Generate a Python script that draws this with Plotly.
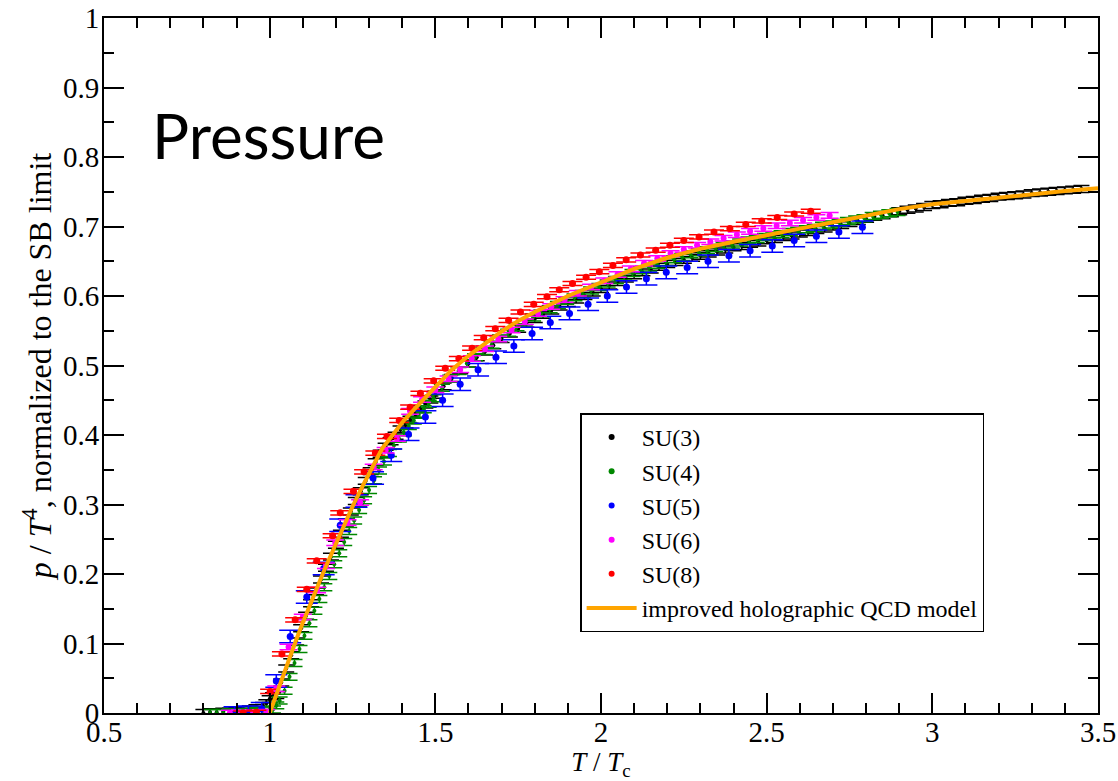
import plotly.graph_objects as go

# ---------------- data ----------------
su3_x = [0.80, 0.82, 0.84, 0.86, 0.88, 0.90, 0.92, 0.94, 0.96, 0.98, 0.99, 1.00, 1.01,
         1.02, 1.035, 1.05, 1.065, 1.08, 1.095, 1.11, 1.125, 1.14, 1.155, 1.17, 1.185,
         1.20, 1.215, 1.23, 1.245, 1.26, 1.275, 1.29, 1.305, 1.32, 1.335, 1.35, 1.365,
         1.38, 1.395, 1.41, 1.425, 1.44, 1.455, 1.47, 1.485, 1.50,
         1.525, 1.55, 1.575, 1.60, 1.625, 1.65, 1.675, 1.70, 1.725, 1.75, 1.775, 1.80,
         1.825, 1.85, 1.875, 1.90, 1.925, 1.95, 1.975, 2.00, 2.025, 2.05, 2.075, 2.10,
         2.125, 2.15, 2.175, 2.20, 2.225, 2.25, 2.275, 2.30, 2.325, 2.35, 2.375, 2.40,
         2.425, 2.45, 2.475, 2.50, 2.525, 2.55, 2.575, 2.60, 2.625, 2.65, 2.675, 2.70,
         2.725, 2.75, 2.775, 2.80, 2.825, 2.85, 2.875, 2.90, 2.925, 2.95, 2.975, 3.00,
         3.025, 3.05, 3.075, 3.10, 3.125, 3.15, 3.175, 3.20, 3.225, 3.25, 3.275, 3.30,
         3.325, 3.35, 3.375, 3.40, 3.425, 3.45]
su3_y = [0.000, 0.001, 0.001, 0.002, 0.002, 0.003, 0.004, 0.005, 0.007, 0.010, 0.014, 0.020, 0.024,
         0.026, 0.044, 0.064, 0.083, 0.103, 0.122, 0.140, 0.158, 0.175, 0.192, 0.209, 0.225,
         0.242, 0.258, 0.274, 0.290, 0.305, 0.319, 0.334, 0.348, 0.361, 0.373, 0.383, 0.391,
         0.399, 0.408, 0.415, 0.422, 0.430, 0.437, 0.444, 0.451, 0.458,
         0.470, 0.482, 0.493, 0.503, 0.512, 0.520, 0.529, 0.538, 0.546, 0.553, 0.560, 0.567,
         0.573, 0.579, 0.585, 0.590, 0.595, 0.600, 0.605, 0.610, 0.615, 0.620, 0.625, 0.630,
         0.634, 0.638, 0.642, 0.646, 0.649, 0.652, 0.655, 0.658, 0.661, 0.664, 0.667, 0.670,
         0.672, 0.675, 0.677, 0.680, 0.682, 0.685, 0.687, 0.690, 0.692, 0.695, 0.697, 0.700,
         0.702, 0.705, 0.708, 0.711, 0.714, 0.716, 0.719, 0.722, 0.724, 0.726, 0.728, 0.731,
         0.732, 0.734, 0.735, 0.737, 0.738, 0.740, 0.741, 0.743, 0.744, 0.745, 0.746, 0.748,
         0.749, 0.750, 0.751, 0.752, 0.753, 0.754]

su4_x = [0.82, 0.84, 0.86, 0.88, 0.90, 0.92, 0.94, 0.96, 0.98, 1.00, 1.01, 1.02, 1.03,
         1.045, 1.06, 1.075, 1.09, 1.105, 1.12, 1.135, 1.15, 1.165, 1.18, 1.195, 1.21,
         1.225, 1.24, 1.255, 1.27, 1.285, 1.30, 1.315, 1.33, 1.345, 1.36, 1.375, 1.39,
         1.405, 1.42, 1.435, 1.45, 1.465, 1.48, 1.495,
         1.52, 1.545, 1.57, 1.595, 1.62, 1.645, 1.67, 1.695, 1.72, 1.745, 1.77, 1.795,
         1.82, 1.845, 1.87, 1.895, 1.92, 1.945, 1.97, 1.995, 2.02, 2.045, 2.07, 2.095,
         2.12, 2.145, 2.17, 2.195, 2.22, 2.245, 2.27, 2.295, 2.32, 2.345, 2.37, 2.395,
         2.42, 2.445, 2.47, 2.495, 2.52, 2.545, 2.57, 2.595, 2.62, 2.645, 2.67, 2.695,
         2.72, 2.745, 2.77, 2.795, 2.82, 2.845, 2.87, 2.895]
su4_y = [0.000, 0.000, 0.000, 0.001, 0.001, 0.001, 0.002, 0.003, 0.004, 0.004, 0.005, 0.011, 0.018,
         0.032, 0.052, 0.072, 0.092, 0.111, 0.129, 0.147, 0.164, 0.181, 0.197, 0.214, 0.230,
         0.246, 0.262, 0.277, 0.292, 0.306, 0.321, 0.335, 0.349, 0.362, 0.374, 0.385, 0.395,
         0.404, 0.413, 0.421, 0.429, 0.437, 0.445, 0.453,
         0.468, 0.481, 0.492, 0.503, 0.512, 0.521, 0.530, 0.539, 0.547, 0.555, 0.562, 0.569,
         0.575, 0.581, 0.587, 0.593, 0.598, 0.603, 0.608, 0.613, 0.618, 0.623, 0.628, 0.633,
         0.637, 0.641, 0.645, 0.649, 0.653, 0.656, 0.660, 0.663, 0.666, 0.669, 0.672, 0.674,
         0.677, 0.680, 0.682, 0.685, 0.687, 0.689, 0.692, 0.694, 0.696, 0.698, 0.701, 0.703,
         0.705, 0.708, 0.710, 0.712, 0.715, 0.717, 0.719, 0.721]

su5_x = [0.894, 0.936, 0.976, 1.020, 1.062, 1.112, 1.163, 1.213, 1.262, 1.312, 1.367,
         1.419, 1.470, 1.522, 1.575, 1.629, 1.683, 1.737, 1.792, 1.847, 1.905, 1.961,
         2.019, 2.077, 2.137, 2.197, 2.260, 2.323, 2.386, 2.450, 2.517, 2.583, 2.650,
         2.718, 2.789]
su5_y = [0.000, 0.001, 0.006, 0.046, 0.110, 0.167, 0.208, 0.270, 0.305, 0.338, 0.371,
         0.401, 0.426, 0.450, 0.473, 0.494, 0.512, 0.528, 0.546, 0.562, 0.575, 0.588,
         0.600, 0.613, 0.625, 0.634, 0.641, 0.650, 0.658, 0.665, 0.672, 0.680, 0.686,
         0.692, 0.699]

su6_x = [0.88, 0.91, 0.95, 0.99, 1.02, 1.057, 1.10, 1.143, 1.17, 1.198, 1.235, 1.273,
         1.314, 1.35, 1.384, 1.424, 1.46, 1.50, 1.54, 1.575, 1.61, 1.65, 1.69, 1.73,
         1.77, 1.81, 1.85, 1.89, 1.93, 1.97, 2.01, 2.05, 2.09, 2.13, 2.17, 2.21, 2.25,
         2.29, 2.33, 2.37, 2.41, 2.45, 2.49, 2.53, 2.57, 2.61, 2.65, 2.69]
su6_y = [0.000, 0.000, 0.000, 0.001, 0.035, 0.095, 0.138, 0.177, 0.212, 0.245, 0.274, 0.303,
         0.354, 0.378, 0.395, 0.434, 0.451, 0.465, 0.481, 0.494, 0.510, 0.524, 0.538, 0.551,
         0.563, 0.575, 0.585, 0.595, 0.604, 0.613, 0.622, 0.631, 0.639, 0.647, 0.654, 0.661, 0.667,
         0.673, 0.678, 0.683, 0.688, 0.693, 0.697, 0.701, 0.705, 0.709, 0.713, 0.716]

su8_x = [0.92, 0.96, 1.0015, 1.037, 1.077, 1.112, 1.142, 1.190, 1.213, 1.253, 1.285,
         1.319, 1.354, 1.391, 1.424, 1.455, 1.495, 1.530, 1.571, 1.611, 1.646, 1.681,
         1.721, 1.757, 1.797, 1.837, 1.874, 1.914, 1.955, 1.995, 2.036, 2.076, 2.119,
         2.165, 2.208, 2.250, 2.296, 2.341, 2.389, 2.437, 2.485, 2.532, 2.583, 2.633]
su8_y = [0.000, 0.001, 0.031, 0.085, 0.134, 0.178, 0.219, 0.255, 0.288, 0.319, 0.347,
         0.374, 0.398, 0.421, 0.440, 0.460, 0.478, 0.496, 0.510, 0.525, 0.540, 0.553,
         0.565, 0.577, 0.588, 0.599, 0.609, 0.618, 0.627, 0.635, 0.644, 0.652, 0.659,
         0.666, 0.673, 0.680, 0.685, 0.692, 0.697, 0.703, 0.708, 0.713, 0.718, 0.722]

model_x = [1.00, 1.02, 1.04, 1.06, 1.08, 1.10, 1.12, 1.14, 1.16, 1.18, 1.20, 1.22, 1.25,
           1.28, 1.31, 1.34, 1.355, 1.37, 1.40, 1.45, 1.50, 1.55, 1.60, 1.65, 1.70, 1.75,
           1.80, 1.90, 2.00, 2.10, 2.20, 2.30, 2.40, 2.50, 2.60, 2.70, 2.80, 2.90, 3.00,
           3.10, 3.20, 3.30, 3.40, 3.50]
model_y = [0.000, 0.027, 0.053, 0.079, 0.105, 0.130, 0.154, 0.177, 0.200, 0.222, 0.244, 0.266, 0.297,
           0.326, 0.355, 0.381, 0.390, 0.399, 0.418, 0.444, 0.469, 0.494, 0.514, 0.531, 0.549, 0.564,
           0.577, 0.600, 0.620, 0.639, 0.655, 0.668, 0.678, 0.688, 0.697, 0.706, 0.716, 0.725, 0.732,
           0.737, 0.742, 0.747, 0.751, 0.755]

x_ticks = [0.5, 1.0, 1.5, 2.0, 2.5, 3.0, 3.5]
x_tick_labels = ["0.5", "1", "1.5", "2", "2.5", "3", "3.5"]
y_ticks = [0, 0.1, 0.2, 0.3, 0.4, 0.5, 0.6, 0.7, 0.8, 0.9, 1.0]
y_tick_labels = ["0", "0.1", "0.2", "0.3", "0.4", "0.5", "0.6", "0.7", "0.8", "0.9", "1"]

series = [
    ("SU(3)", su3_x, su3_y, "#000000", 4, 0.005, 8),
    ("SU(4)", su4_x, su4_y, "#008800", 4, 0.005, 8),
    ("SU(5)", su5_x, su5_y, "#0000ff", 7, 0.009, 11),
    ("SU(6)", su6_x, su6_y, "#ff00ff", 6, 0.004, 9),
    ("SU(8)", su8_x, su8_y, "#ff0000", 7, 0.003, 10),
]

SERIF = "Liberation Serif"

fig = go.Figure()
for name, xs, ys, col, msize, err, cap in series:
    fig.add_trace(go.Scatter(
        x=xs, y=ys, mode="markers", name=name, showlegend=False, legendgroup=name,
        marker=dict(color=col, size=msize),
        error_y=dict(type="constant", value=err, color=col, thickness=1.5, width=cap),
    ))

# legend entries (small uniform dots as in the reference legend)
for name, xs, ys, col, msize, err, cap in series:
    fig.add_trace(go.Scatter(
        x=[None], y=[None], mode="markers", name=name, legendgroup=name,
        marker=dict(color=col, size=6),
    ))

fig.add_trace(go.Scatter(
    x=model_x, y=model_y, mode="lines", name="improved holographic QCD model",
    line=dict(color="#ffa500", width=4),
))

fig.add_annotation(
    x=0.639, y=0.832, xref="x", yref="y", xanchor="left", yanchor="middle",
    text="Pressure", showarrow=False,
    font=dict(family="Lato", size=62, color="black"),
)

axis_common = dict(
    showline=True, linecolor="black", linewidth=2, mirror="ticks",
    ticks="inside", ticklen=20, tickwidth=2, tickcolor="black",
    showgrid=False, zeroline=False, automargin=False,
    tickfont=dict(family=SERIF, size=29, color="black"),
)

fig.update_xaxes(
    range=[0.5, 3.5], tickmode="array", tickvals=x_ticks, ticktext=x_tick_labels,
    ticklabelstandoff=-8,
    minor=dict(dtick=0.1, ticks="inside", ticklen=10, tickwidth=2, tickcolor="black"),
    title=dict(text="<i>T</i> / <i>T</i><sub>c</sub>", font=dict(family=SERIF, size=27, color="black"),
               standoff=12),
    **axis_common,
)
fig.update_yaxes(
    range=[0, 1], tickmode="array", tickvals=y_ticks, ticktext=y_tick_labels,
    ticklabelstandoff=-3,
    minor=dict(dtick=0.05, ticks="inside", ticklen=10, tickwidth=2, tickcolor="black"),
    title=dict(text="<i>p</i> / <i>T</i><sup>4</sup>, normalized to the SB limit",
               font=dict(family=SERIF, size=32, color="black"), standoff=2),
    **axis_common,
)

fig.update_layout(
    width=1118, height=781,
    margin=dict(l=104, r=20, t=18, b=68),
    paper_bgcolor="white", plot_bgcolor="white",
    font=dict(family=SERIF, color="black"),
    showlegend=True,
    legend=dict(
        x=0.479, y=0.431, xanchor="left", yanchor="top",
        bgcolor="white", bordercolor="black", borderwidth=1.5,
        font=dict(family=SERIF, size=24, color="black"),
        tracegroupgap=0, itemwidth=50,
    ),
)

fig.write_html("out.html")
